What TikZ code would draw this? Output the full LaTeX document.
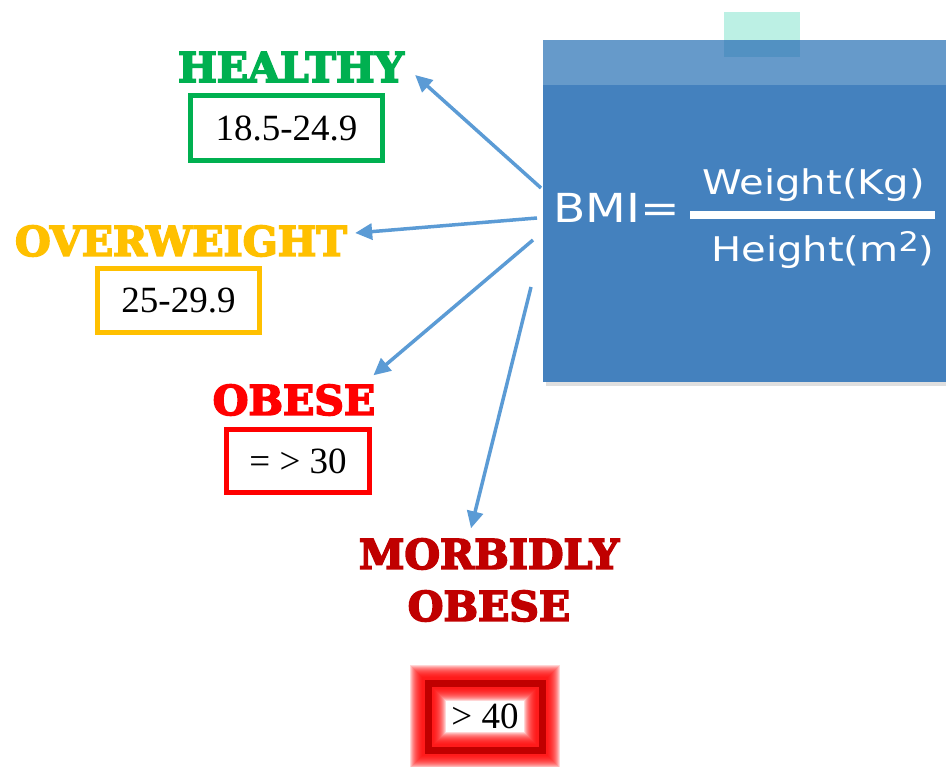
\documentclass[tikz,border=0pt]{standalone}
\usepackage{fontspec}
\usepackage{tikz}
\usetikzlibrary{arrows.meta}
\setmainfont{Liberation Serif}
\newfontfamily\slabfont{DejaVu Serif}[UprightFont=* Bold, FakeBold=4]
\newfontfamily\handfont{DejaVu Sans}[FakeStretch=1.18]
\definecolor{bmiblue}{RGB}{68,129,190}
\definecolor{bandblue}{RGB}{102,154,202}
\definecolor{tabmint}{RGB}{188,240,228}
\definecolor{tabblue}{RGB}{82,145,194}
\definecolor{arrowblue}{RGB}{91,155,213}
\definecolor{healthygreen}{RGB}{0,176,80}
\definecolor{overorange}{RGB}{255,192,0}
\definecolor{obesered}{RGB}{255,0,0}
\definecolor{morbidred}{RGB}{192,0,0}
\tikzset{classlabel/.style={inner sep=0pt, font=\slabfont\fontsize{41}{52}\selectfont}}
\tikzset{rangebox/.style={draw, line width=5pt, inner sep=0pt, fill=white, font=\fontsize{37}{40}\selectfont}}
\tikzset{bmiarrow/.style={draw=arrowblue, line width=3.5pt, -{Triangle[length=17pt,width=16pt]}}}

\begin{document}
\begin{tikzpicture}[x=1pt,y=-1pt]
	\useasboundingbox (0,0) rectangle (946,767);
	\clip (0,0) rectangle (946,767);

	% BMI board
	\fill[black!25, opacity=0.5] (546,44) rectangle (960,386);
	\node[fill=bmiblue, inner sep=0pt, minimum width=420pt, minimum height=342pt, anchor=north west] (bmibox) at (543,40) {};
	\fill[bandblue] (543,40) rectangle (960,85);
	\fill[tabmint] (724,12) rectangle (800,40);
	\fill[tabblue] (724,40) rectangle (800,57);

	% Formula
	\node[text=white, font=\handfont\fontsize{40}{44}\selectfont, inner sep=0pt, anchor=base west] (bmi) at (553,223) {BMI=};
	\coordinate (bar west) at (690,215);	\coordinate (bar east) at (935,215);
	\draw[white, line width=8pt] (bar west) -- (bar east);
	\node[text=white, font=\handfont\fontsize{34}{40}\selectfont, inner sep=0pt, anchor=base west] (weight) at (702,195) {Weight(Kg)};
	\node[text=white, font=\handfont\fontsize{34}{40}\selectfont, inner sep=0pt, anchor=base west] (height) at (711,262) {Height(m\raisebox{10pt}{\fontsize{27}{27}\selectfont 2})};

	% Classes
	\node[classlabel, text=healthygreen] (healthy) at (291,67) {HEALTHY};
	\node[rangebox, draw=healthygreen, minimum width=192pt, minimum height=65pt] (healthyrange) at (286.5,128) {18.5-24.9};

	\node[classlabel, text=overorange] (overweight) at (181,241) {OVERWEIGHT};
	\node[rangebox, draw=overorange, minimum width=162pt, minimum height=64pt] (overrange) at (178.5,300.5) {25-29.9};

	\node[classlabel, text=obesered] (obese) at (294,400) {OBESE};
	\node[rangebox, draw=obesered, minimum width=143pt, minimum height=63pt] (obeserange) at (298,461) {= > 30};

	\node[classlabel, text=morbidred, align=center] (morbid) at (489,580) {MORBIDLY\\OBESE};

	% Glowing box
	\foreach \w in {36,34,...,12}
		\draw[obesered, line width=\w pt, opacity=0.16] (428,683) rectangle (542,750);
	\node[rangebox, draw=morbidred, line width=7pt, fill=none, minimum width=114pt, minimum height=67pt] (morbidrange) at (485,716.5) {> 40};

	% Arrows
	\coordinate (from healthy) at (541,188);
	\coordinate (from over) at (537,218);
	\coordinate (from obese) at (533,240);
	\coordinate (from morbid) at (531,287);

	\draw[bmiarrow] (from healthy) -- ([shift={(11,8)}]healthy.east);
	\draw[bmiarrow] (from over) -- ([shift={(8,-8)}]overweight.east);
	\draw[bmiarrow] (from obese) -- ([shift={(-2,-9)}]obese.north east);
	\draw[bmiarrow] (from morbid) -- ([shift={(-18,-10)}]morbid.north);

\end{tikzpicture}
\end{document}
